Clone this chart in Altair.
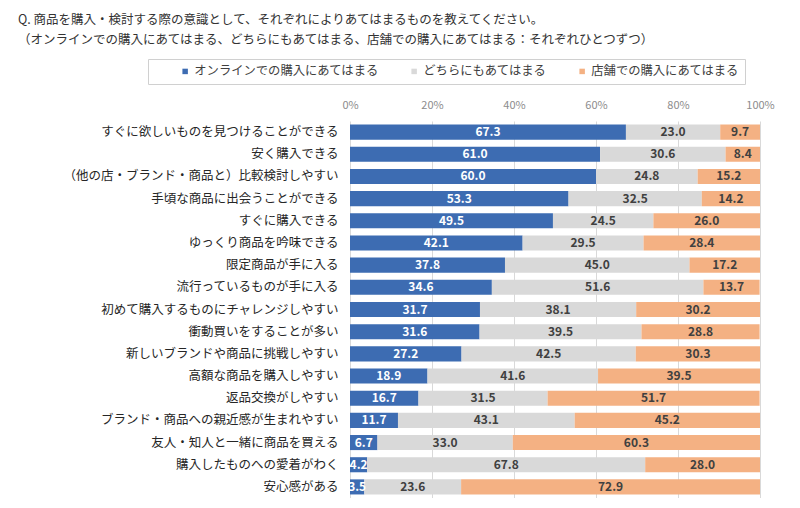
import altair as alt
import pandas as pd

title_lines = [
    "Q. 商品を購入・検討する際の意識として、それぞれによりあてはまるものを教えてください。",
    "（オンラインでの購入にあてはまる、どちらにもあてはまる、店舗での購入にあてはまる：それぞれひとつずつ）",
]

categories = [
    "すぐに欲しいものを見つけることができる",
    "安く購入できる",
    "（他の店・ブランド・商品と）比較検討しやすい",
    "手頃な商品に出会うことができる",
    "すぐに購入できる",
    "ゆっくり商品を吟味できる",
    "限定商品が手に入る",
    "流行っているものが手に入る",
    "初めて購入するものにチャレンジしやすい",
    "衝動買いをすることが多い",
    "新しいブランドや商品に挑戦しやすい",
    "高額な商品を購入しやすい",
    "返品交換がしやすい",
    "ブランド・商品への親近感が生まれやすい",
    "友人・知人と一緒に商品を買える",
    "購入したものへの愛着がわく",
    "安心感がある",
]

series_names = ["オンラインでの購入にあてはまる", "どちらにもあてはまる", "店舗での購入にあてはまる"]

online = [67.3, 61.0, 60.0, 53.3, 49.5, 42.1, 37.8, 34.6, 31.7, 31.6, 27.2, 18.9, 16.7, 11.7, 6.7, 4.2, 3.5]
both = [23.0, 30.6, 24.8, 32.5, 24.5, 29.5, 45.0, 51.6, 38.1, 39.5, 42.5, 41.6, 31.5, 43.1, 33.0, 67.8, 23.6]
store = [9.7, 8.4, 15.2, 14.2, 26.0, 28.4, 17.2, 13.7, 30.2, 28.8, 30.3, 39.5, 51.7, 45.2, 60.3, 28.0, 72.9]

tick_values = [0, 20, 40, 60, 80, 100]
colors = ["#3D6CB2", "#D9D9D9", "#F4B183"]

FONT = "Noto Sans CJK JP"

rows = []
for i, cat in enumerate(categories):
    start = 0.0
    for k, vals in enumerate([online, both, store]):
        v = vals[i]
        rows.append({
            "category": cat,
            "series": series_names[k],
            "order": k,
            "value": v,
            "start": start,
            "end": start + v,
            "mid": start + v / 2,
            "label": f"{v:.1f}",
        })
        start += v
df = pd.DataFrame(rows)

y_enc = alt.Y(
    "category:N",
    sort=categories,
    scale=alt.Scale(paddingInner=0.32, paddingOuter=0.16),
    axis=alt.Axis(
        title=None, domain=False, ticks=False, labelFontSize=12.5, labelColor="#262626",
        labelFont=FONT, labelPadding=12, labelLimit=0, grid=False,
    ),
)

bars = alt.Chart(df).mark_bar().encode(
    x=alt.X(
        "start:Q",
        scale=alt.Scale(domain=[0, 100], nice=False),
        axis=alt.Axis(
            orient="top", values=tick_values, labelExpr="datum.value + '%'", title=None,
            domain=False, ticks=False, grid=True, gridColor="#D9D9D9", labelColor="#8C8C8C",
            labelFontSize=11, labelFont=FONT, labelPadding=11, labelFlush=False,
        ),
    ),
    x2="end:Q",
    y=y_enc,
    color=alt.Color(
        "series:N",
        sort=series_names,
        scale=alt.Scale(domain=series_names, range=colors),
        legend=alt.Legend(
            title=None, orient="none", direction="horizontal", legendX=-202, legendY=-62,
            symbolType="square", symbolSize=30, symbolStrokeWidth=0, symbolOffset=25,
            labelFontSize=12.3, labelFont=FONT, labelColor="#404040", labelOffset=3,
            columnPadding=4, padding=6, strokeColor="#D0D0D0", labelLimit=0,
        ),
    ),
    order="order:Q",
)

texts = alt.Chart(df).mark_text(
    fontSize=12, fontWeight="bold", font=FONT, align="center", baseline="middle"
).encode(
    x="mid:Q",
    y=alt.Y("category:N", sort=categories),
    text="label:N",
    color=alt.condition(
        alt.datum.series == series_names[0], alt.value("white"), alt.value("#404040")
    ),
)

title_df = pd.DataFrame({"t": ["\n".join(title_lines)]})
title_mark = alt.Chart(title_df).mark_text(
    font=FONT, fontSize=12.5, color="#333333", align="left", baseline="top",
    lineBreak="\n", lineHeight=20,
).encode(
    text="t:N",
    x=alt.value(-332),
    y=alt.value(-107),
)

chart = (
    alt.layer(bars, texts, title_mark)
    .properties(
        width=410,
        height=377,
        autosize=alt.AutoSizeParams(type="none"),
        padding={"left": 342, "top": 113, "right": 32, "bottom": 0},
    )
    .configure_view(stroke=None)
)

chart.save("out.html", embed_options={"renderer": "svg", "actions": False})
